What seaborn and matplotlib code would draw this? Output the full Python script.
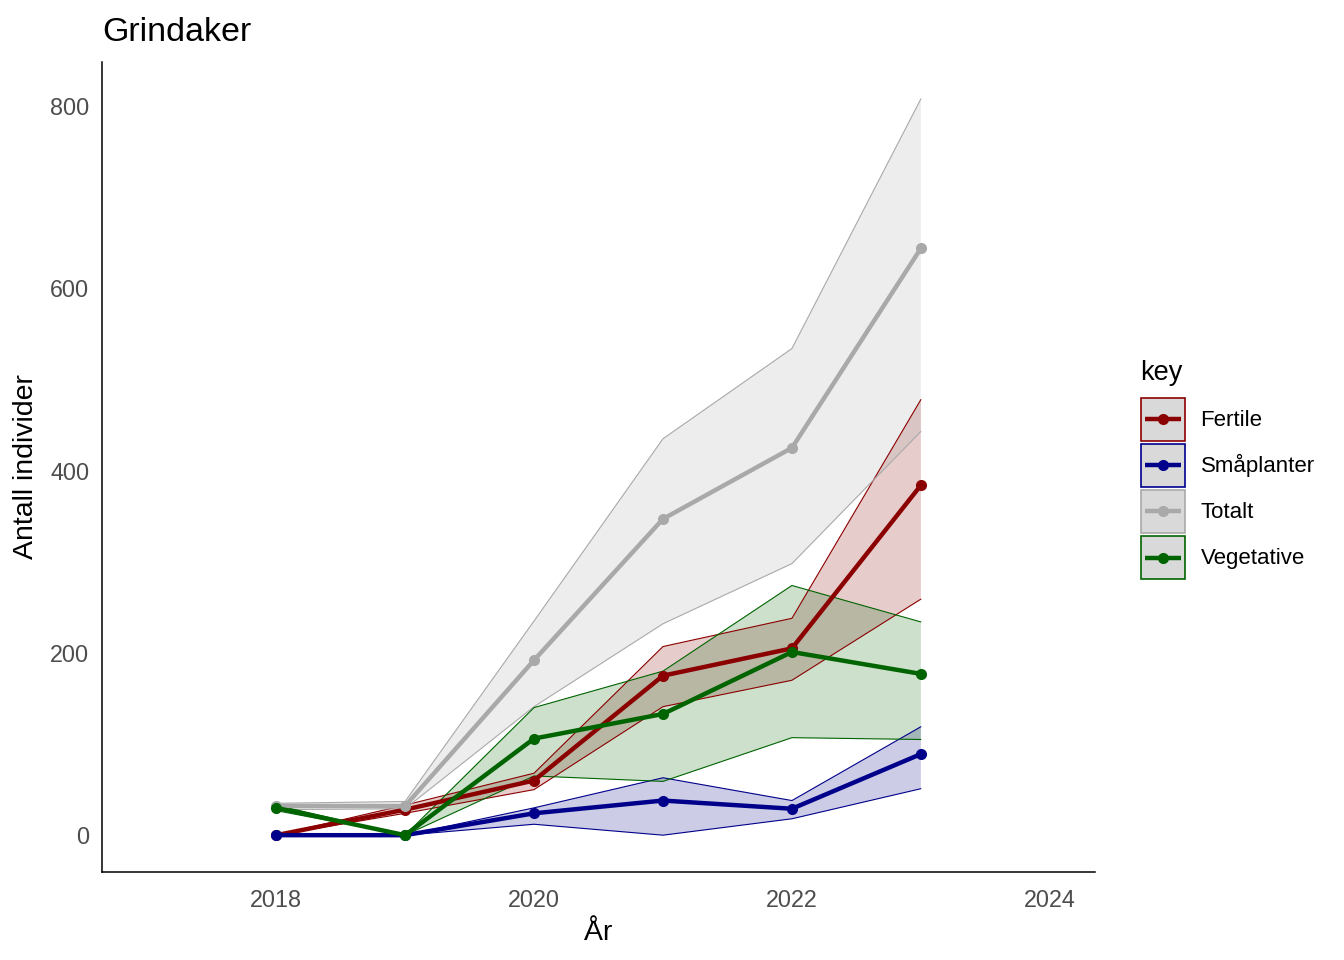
import numpy as np
import pandas as pd
import matplotlib
matplotlib.use("Agg")
import matplotlib.pyplot as plt
import seaborn as sns
from matplotlib.patches import Rectangle
from matplotlib.lines import Line2D

# ---- data ----
years = [2018, 2019, 2020, 2021, 2022, 2023]
keys = ["Fertile", "Småplanter", "Totalt", "Vegetative"]

fertile_mean = [0, 28, 60, 175, 205, 384]
fertile_low = [0, 24, 50, 141, 170, 259]
fertile_high = [0, 33, 68, 207, 238, 478]

smaa_mean = [0, 0, 24, 38, 29, 89]
smaa_low = [0, 0, 12, 0, 18, 51]
smaa_high = [0, 0, 30, 63, 38, 119]

totalt_mean = [32, 32, 192, 347, 425, 644]
totalt_low = [28, 29, 141, 232, 298, 443]
totalt_high = [35, 37, 235, 435, 534, 808]

veg_mean = [30, 0, 106, 133, 201, 177]
veg_low = [27, 0, 65, 59, 107, 105]
veg_high = [33, 0, 140, 180, 274, 234]

colors = {"Fertile": "#8B0000", "Småplanter": "#00008B",
          "Totalt": "#A9A9A9", "Vegetative": "#006400"}

rows = []
for k, m, lo, hi in [("Fertile", fertile_mean, fertile_low, fertile_high),
                     ("Småplanter", smaa_mean, smaa_low, smaa_high),
                     ("Totalt", totalt_mean, totalt_low, totalt_high),
                     ("Vegetative", veg_mean, veg_low, veg_high)]:
    for y, a, b, c in zip(years, m, lo, hi):
        rows.append({"year": y, "key": k, "value": a, "low": b, "high": c})
df = pd.DataFrame(rows)


# legend key like ggplot: grey box with coloured border, line + point centred
class KeyHandler:
    def legend_artist(self, legend, orig_handle, fontsize, handlebox):
        x0, y0 = -handlebox.xdescent, -handlebox.ydescent
        w, h = handlebox.width, handlebox.height
        c = orig_handle.get_color()
        tr = handlebox.get_transform()
        rect = Rectangle((x0, y0), w, h, facecolor="#D9D9D9", edgecolor=c,
                         linewidth=1.2, transform=tr)
        seg = Line2D([x0 + 0.08 * w, x0 + 0.92 * w], [y0 + h / 2] * 2,
                     color=c, lw=3.2, solid_capstyle="butt", transform=tr)
        dot = Line2D([x0 + w / 2], [y0 + h / 2], color=c, marker="o",
                     markersize=8, markeredgewidth=0, linestyle="none",
                     transform=tr)
        for a in (rect, seg, dot):
            handlebox.add_artist(a)
        return rect


# ---- plot ----
sns.set_style("white")
plt.rcParams["font.family"] = ["Liberation Sans", "DejaVu Sans"]
plt.rcParams["text.color"] = "black"
plt.rcParams["axes.labelcolor"] = "black"

fig = plt.figure(figsize=(13.44, 9.6), dpi=100)
ax = fig.add_axes([102 / 1344, 88 / 960, 993 / 1344, 810 / 960])

# ribbons with thin edge lines
for k in keys:
    d = df[df["key"] == k]
    ax.fill_between(d["year"], d["low"], d["high"], facecolor=colors[k],
                    alpha=0.2, edgecolor="none", zorder=1)
    ax.plot(d["year"], d["low"], color=colors[k], lw=0.8, zorder=2)
    ax.plot(d["year"], d["high"], color=colors[k], lw=0.8, zorder=2)

sns.lineplot(data=df, x="year", y="value", hue="key", hue_order=keys,
             palette=colors, linewidth=3.2, marker="o", markersize=8,
             markeredgewidth=0, legend=False, ax=ax, zorder=3)

ax.set_xlim(2016.65, 2024.35)
ax.set_ylim(-40.4, 848.4)
ax.set_xticks([2018, 2020, 2022, 2024])
ax.set_yticks([0, 200, 400, 600, 800])

for s in ["top", "right"]:
    ax.spines[s].set_visible(False)
for s in ["left", "bottom"]:
    ax.spines[s].set_color("black")
    ax.spines[s].set_linewidth(1.1)
ax.tick_params(axis="both", direction="out", length=5, width=1.0,
               color="#333333", labelsize=16.8, labelcolor="#4D4D4D")
ax.tick_params(axis="x", pad=7)
ax.tick_params(axis="y", pad=4)

ax.set_xlabel("År", fontsize=20.5, labelpad=6)
ax.set_ylabel("Antall individer", fontsize=20.5, labelpad=8)
ax.set_title("Grindaker", loc="left", fontsize=24.5, pad=15)

handles = [Line2D([], [], color=colors[k]) for k in keys]
fig.text(1140 / 1344, 1 - 380 / 960, "key", fontsize=19.5, va="baseline")
fig.legend(handles, keys, loc="upper left",
           bbox_to_anchor=(1141 / 1344, 1 - 398 / 960), frameon=False,
           fontsize=16, handlelength=1.98, handleheight=2.6,
           handletextpad=0.7, labelspacing=0.135, borderpad=0,
           borderaxespad=0, handler_map={Line2D: KeyHandler()})

fig.savefig("out.png", dpi=100)
